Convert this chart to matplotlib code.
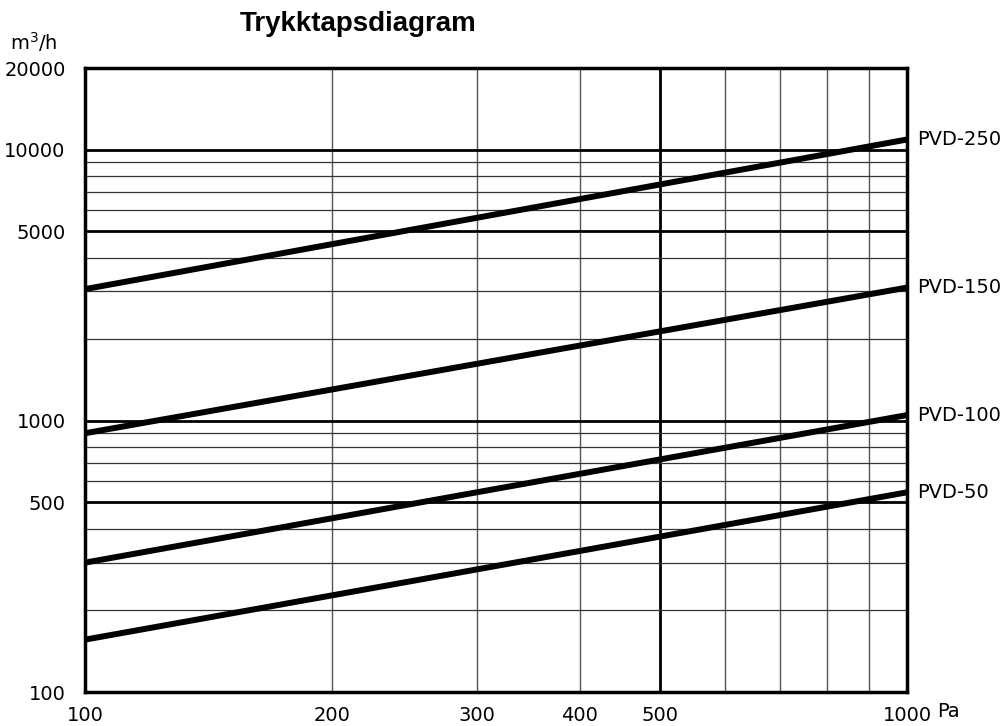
import matplotlib
matplotlib.use("Agg")
import matplotlib.pyplot as plt

# pressure drop (Pa) vs air flow (m3/h)
models = ["PVD-250", "PVD-150", "PVD-100", "PVD-50"]
pressure = [100, 1000]
flow = {
    "PVD-250": [3060, 10900],
    "PVD-150": [900, 3100],
    "PVD-100": [300, 1050],
    "PVD-50": [156, 545],
}

x_ticks = [100, 200, 300, 400, 500, 1000]
x_grid_thin = [200, 300, 400, 600, 700, 800, 900]
x_grid_thick = [500]
y_ticks = [100, 500, 1000, 5000, 10000, 20000]
y_grid_thin = [200, 300, 400, 600, 700, 800, 900, 2000, 3000, 4000,
               6000, 7000, 8000, 9000]
y_grid_thick = [500, 1000, 5000, 10000]

lab_font = "DejaVu Sans"
fs = 14

fig = plt.figure(figsize=(10.03, 7.26), dpi=100)
ax = fig.add_axes([0.0847, 0.0468, 0.8196, 0.8595])
ax.set_xscale("log")
ax.set_yscale("log")
ax.set_xlim(100, 1000)
ax.set_ylim(100, 20000)

for x in x_grid_thin:
    ax.axvline(x, color="#555555", lw=1.0, zorder=1)
for x in x_grid_thick:
    ax.axvline(x, color="black", lw=2.0, zorder=1)
for y in y_grid_thin:
    ax.axhline(y, color="#333333", lw=0.9, zorder=1)
for y in y_grid_thick:
    ax.axhline(y, color="black", lw=2.0, zorder=1)

for m in models:
    ax.plot(pressure, flow[m], color="black", lw=4.3, solid_capstyle="butt", zorder=3)
    ax.text(1000 * 1.028, flow[m][1], m, fontsize=fs, family=lab_font,
            ha="left", va="center")

ax.set_xticks(x_ticks)
ax.set_xticklabels([str(v) for v in x_ticks])
ax.set_yticks(y_ticks)
ax.set_yticklabels([str(v) for v in y_ticks])
ax.minorticks_off()
ax.tick_params(length=0, labelsize=fs, pad=10)
ax.tick_params(axis="y", pad=14)
for lab in ax.get_xticklabels() + ax.get_yticklabels():
    lab.set_family(lab_font)

for s in ax.spines.values():
    s.set_linewidth(2.5)
    s.set_color("black")

fig.text(0.934, 0.012, "Pa", fontsize=fs, family=lab_font, ha="left", va="baseline")
fig.text(0.010, 0.932, "m$^3$/h", fontsize=fs, family=lab_font, ha="left", va="baseline")
fig.text(0.357, 0.957, "Trykktapsdiagram", fontsize=20, fontweight="bold",
         family="Liberation Sans", ha="center", va="baseline")

fig.savefig("out.png", dpi=100)
